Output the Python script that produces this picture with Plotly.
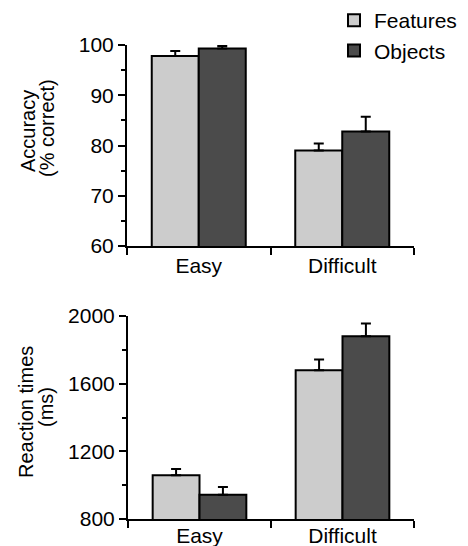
import plotly.graph_objects as go

# page body has an 8px margin; lay out in screen pixels and compensate
OFF = 8
W, H = 460, 538

categories = ["Easy", "Difficult"]
series_names = ["Features", "Objects"]

acc_features = [97.8, 79.0]
acc_features_err = [1.0, 1.4]
acc_objects = [99.3, 82.8]
acc_objects_err = [0.5, 2.9]

rt_features = [1059, 1680]
rt_features_err = [37, 63]
rt_objects = [944, 1881]
rt_objects_err = [45, 75]

colors = {"Features": "#cccccc", "Objects": "#4b4b4b"}
FONT = "Liberation Sans, Arial, Helvetica, sans-serif"

fig = go.Figure()

def add_bars(vals, errs, name, xa, ya, show):
    fig.add_trace(go.Bar(
        x=categories, y=vals, name=name,
        marker=dict(color=colors[name], line=dict(color="black", width=2)),
        error_y=dict(type="data", symmetric=False, array=errs,
                     arrayminus=[0] * len(errs), color="black",
                     thickness=2, width=5),
        xaxis=xa, yaxis=ya, showlegend=show,
    ))

add_bars(acc_features, acc_features_err, "Features", "x", "y", True)
add_bars(acc_objects, acc_objects_err, "Objects", "x", "y", True)
add_bars(rt_features, rt_features_err, "Features", "x2", "y2", False)
add_bars(rt_objects, rt_objects_err, "Objects", "x2", "y2", False)

def px_x(p):
    return (p - OFF) / W

def px_y(p):
    return 1 - (p - OFF) / H

xcommon = dict(type="category", range=[-0.5, 1.5], showline=True,
               linecolor="black", linewidth=2, ticks="outside",
               tickson="boundaries", ticklen=7, tickwidth=2,
               tickcolor="black", showgrid=False, zeroline=False,
               automargin=False,
               tickfont=dict(size=21, color="black", family=FONT))
ycommon = dict(showline=True, linecolor="black", linewidth=2,
               ticks="outside", ticklen=7, tickwidth=2, tickcolor="black",
               showgrid=False, zeroline=False, automargin=False,
               tickfont=dict(size=21, color="black", family=FONT))

fig.update_layout(
    width=W, height=H,
    margin=dict(l=0, r=0, t=0, b=0, autoexpand=False),
    paper_bgcolor="white", plot_bgcolor="white",
    barmode="group", bargap=0.345, bargroupgap=0,
    font=dict(family=FONT, size=20, color="black"),
    xaxis=dict(domain=[px_x(127), px_x(414)], anchor="y", **xcommon),
    yaxis=dict(domain=[px_y(246), px_y(45)], anchor="x", range=[60, 100],
               dtick=10, tick0=60,
               minor=dict(ticks="outside", dtick=5, ticklen=4,
                          tickwidth=2, tickcolor="black"),
               **ycommon),
    xaxis2=dict(domain=[px_x(128), px_x(414)], anchor="y2",
                ticklabelstandoff=-3, **xcommon),
    yaxis2=dict(domain=[px_y(519), px_y(316)], anchor="x2",
                range=[800, 2000], dtick=400, tick0=800,
                minor=dict(ticks="outside", dtick=200, ticklen=4,
                           tickwidth=2, tickcolor="black"),
                **ycommon),
    legend=dict(x=px_x(334), y=px_y(0), xanchor="left", yanchor="top",
                font=dict(size=21, family=FONT, color="black"),
                bgcolor="rgba(0,0,0,0)", tracegroupgap=0),
)

titles = [
    ("Accuracy", 28, 131),
    ("(% correct)", 47, 128),
    ("Reaction times", 26, 412),
    ("(ms)", 46, 407),
]
for text, xp, yp in titles:
    fig.add_annotation(text=text, xref="paper", yref="paper",
                       x=px_x(xp), y=px_y(yp), xanchor="center",
                       yanchor="middle", textangle=-90, showarrow=False,
                       font=dict(size=20, family=FONT, color="black"))

fig.write_html("out.html")
